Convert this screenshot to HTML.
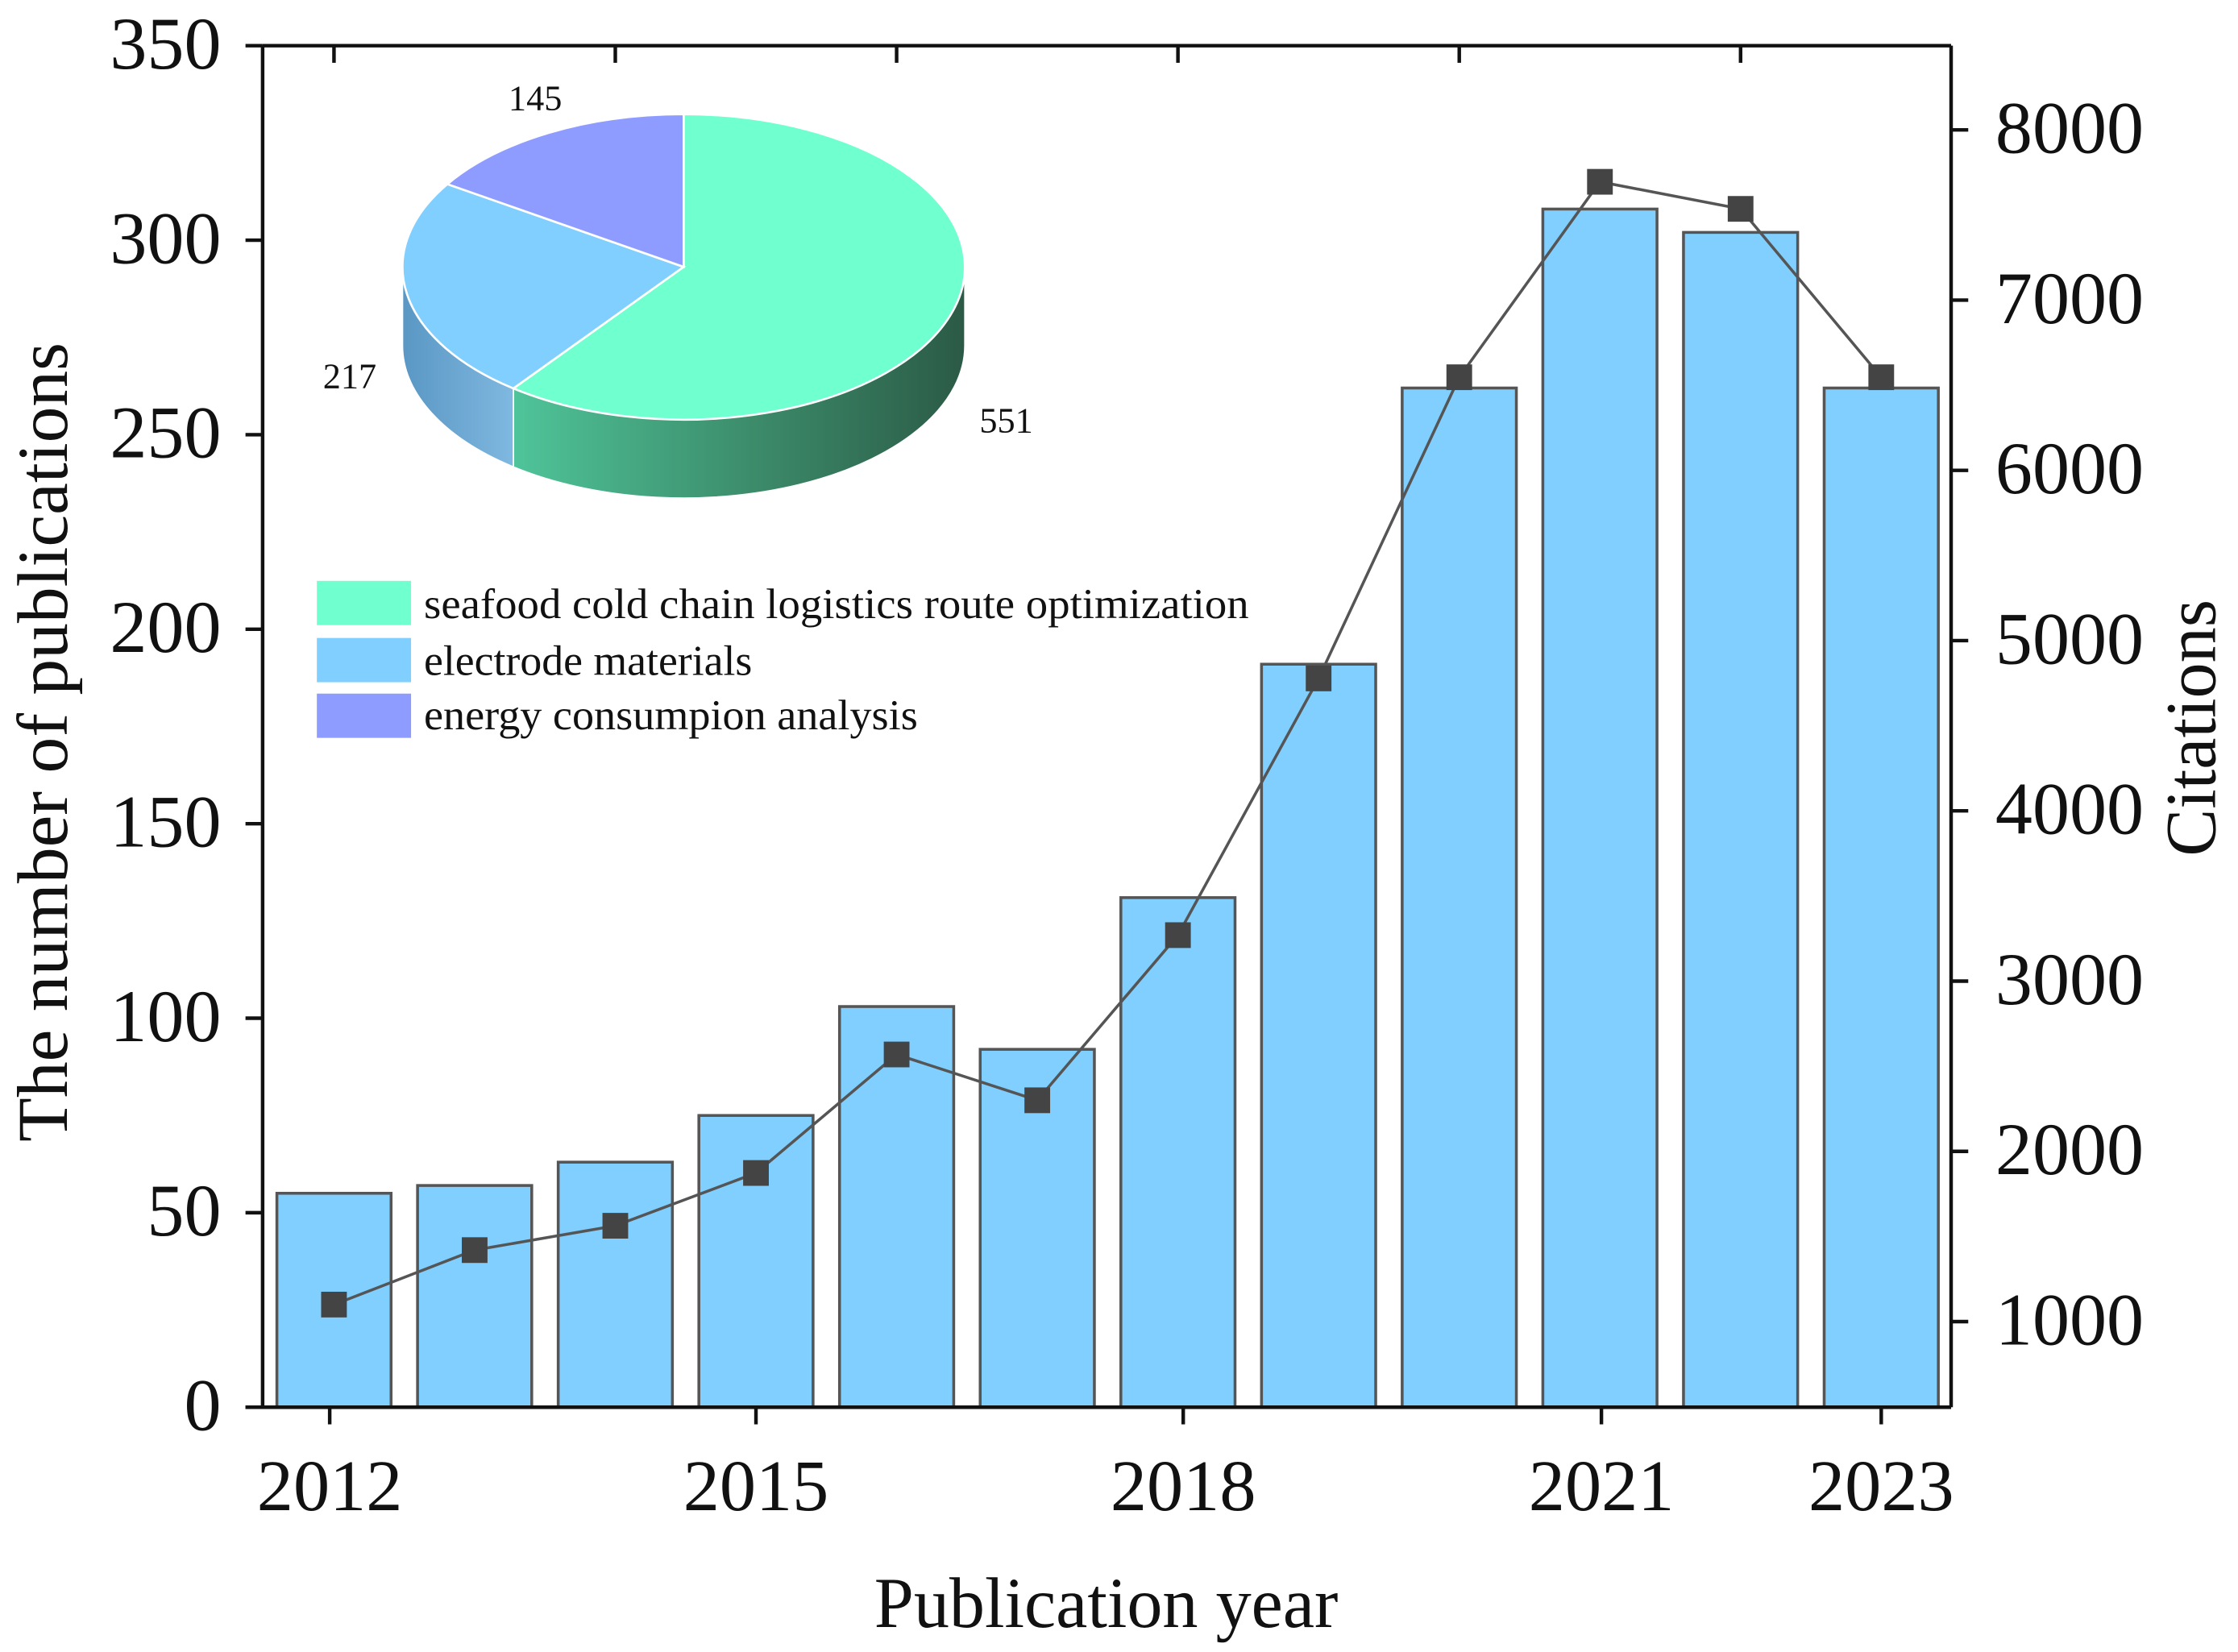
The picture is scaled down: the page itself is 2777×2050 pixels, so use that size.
<!DOCTYPE html>
<html><head><meta charset="utf-8"><style>
html,body{margin:0;padding:0;background:#fff}
svg{display:block}
text{font-family:"Liberation Serif",serif;fill:#111}
</style></head><body>
<svg id="chart" width="2777" height="2050" viewBox="0 0 1568 1157.5" preserveAspectRatio="none" xmlns="http://www.w3.org/2000/svg">
<defs>
<linearGradient id="gside" x1="0" x2="1" y1="0" y2="0">
<stop offset="0" stop-color="#4fc49a"/><stop offset="0.5" stop-color="#3d8f6d"/><stop offset="1" stop-color="#2b5a46"/>
</linearGradient>
<linearGradient id="bside" x1="0" x2="1" y1="0" y2="0">
<stop offset="0" stop-color="#5a97c4"/><stop offset="1" stop-color="#7fb8e0"/>
</linearGradient>
</defs>
<g id="bars"></g>
<g id="line"></g>
<g id="axes"></g>
<g id="pie"></g>
<g id="legend">
<rect x="222" y="407" width="66" height="31" fill="#70ffcf"/>
<text x="297" y="433" font-size="30" textLength="578" lengthAdjust="spacingAndGlyphs">seafood cold chain logistics route optimization</text>
<rect x="222" y="447" width="66" height="31" fill="#80cfff"/>
<text x="297" y="473" font-size="30" textLength="230" lengthAdjust="spacingAndGlyphs">electrode materials</text>
<rect x="222" y="486" width="66" height="31" fill="#8f9cff"/>
<text x="297" y="511" font-size="30" textLength="346" lengthAdjust="spacingAndGlyphs">energy consumpion analysis</text>
</g>
<text transform="translate(47,520) rotate(-90)" text-anchor="middle" font-size="50" textLength="560" lengthAdjust="spacingAndGlyphs">The number of  publications</text>
<text transform="translate(1552,510) rotate(-90)" text-anchor="middle" font-size="50" textLength="180" lengthAdjust="spacingAndGlyphs">Citations</text>
<text x="775" y="1140" text-anchor="middle" font-size="50" textLength="325" lengthAdjust="spacingAndGlyphs">Publication year</text>
</svg>
<script>
const years = [2012,2013,2014,2015,2016,2017,2018,2019,2020,2021,2022,2023];
const publications = [55,57,63,75,103,92,131,191,262,308,302,262];
const citations = [1100,1420,1563,1873,2569,2300,3270,4778,6547,7695,7536,6547];
const leftTicks = [0,50,100,150,200,250,300,350];
const rightTicks = [1000,2000,3000,4000,5000,6000,7000,8000];
const xTickYears = [2012,2015,2018,2021,2023];
const pieLabels = ['seafood cold chain logistics route optimization','electrode materials','energy consumpion analysis'];
const pieValues = [551,217,145];

const NS='http://www.w3.org/2000/svg';
function mk(tag,attrs,parent){const e=document.createElementNS(NS,tag);for(const k in attrs)e.setAttribute(k,attrs[k]);parent.appendChild(e);return e;}
const L=184,R=1367,T=32,B=986;
const yL=v=>B-(v/350)*(B-T);
const yR=v=>926-(v-1000)*(926-91)/7000;
const xC=y=>234+(y-2012)*98.55;
const bw=80;

const gb=document.getElementById('bars');
years.forEach((yr,i)=>{
  const r=mk('rect',{x:xC(yr)-bw/2,y:yL(publications[i]),width:bw,height:B-yL(publications[i]),fill:'#80cfff',stroke:'#555','stroke-width':2},gb);
  
  
});
const gl=document.getElementById('line');
const pl=mk('polyline',{points:years.map((yr,i)=>xC(yr)+','+yR(citations[i])).join(' '),fill:'none',stroke:'#555','stroke-width':2},gl);


years.forEach((yr,i)=>{
  const m=mk('rect',{x:xC(yr)-9,y:yR(citations[i])-9,width:18,height:18,fill:'#444'},gl);
  
  
});

const ga=document.getElementById('axes');
mk('line',{x1:L,y1:T,x2:L,y2:B,stroke:'#111','stroke-width':2.5},ga);
mk('line',{x1:R,y1:T,x2:R,y2:B,stroke:'#111','stroke-width':2.5},ga);
mk('line',{x1:172,y1:B,x2:R,y2:B,stroke:'#111','stroke-width':2.5},ga);
mk('line',{x1:L,y1:T,x2:R,y2:T,stroke:'#111','stroke-width':2.5},ga);
leftTicks.forEach(v=>{
  mk('line',{x1:L-12,y1:yL(v),x2:L,y2:yL(v),stroke:'#111','stroke-width':2.5},ga);
  const t=mk('text',{x:L-29,y:yL(v)+16,'text-anchor':'end','font-size':52},ga);t.textContent=v;
  
  
});
rightTicks.forEach(v=>{
  mk('line',{x1:R,y1:yR(v),x2:R+12,y2:yR(v),stroke:'#111','stroke-width':2.5},ga);
  const t=mk('text',{x:R+31,y:yR(v)+16,'font-size':52,fill:'#333'},ga);t.textContent=v;
  
  
});
const topTicks=[2012,2014,2016,2018,2020,2022];
topTicks.forEach(yr=>{mk('line',{x1:xC(yr),y1:T,x2:xC(yr),y2:T+12,stroke:'#111','stroke-width':2.5},ga);});
xTickYears.forEach(yr=>{
  const x=yr===2021?1122:(yr===2012?231:(yr===2018?829:xC(yr)));
  mk('line',{x1:x,y1:B,x2:x,y2:B+12,stroke:'#111','stroke-width':2.5},ga);
  const t=mk('text',{x:x,y:B+72,'text-anchor':'middle','font-size':51},ga);t.textContent=yr;
  
  
});

// pie
const gp=document.getElementById('pie');
const cx=479,cy=187,rx=197,ry=107,d=55;
const total=pieValues.reduce((a,b)=>a+b,0);
const cols=['#70ffcf','#80cfff','#8f9cff'];
const sides=['url(#gside)','url(#bside)','#6f7bd0'];
const pt=(a,dy)=>[cx+rx*Math.cos(a),cy+ry*Math.sin(a)+(dy||0)];
let a0=-Math.PI/2;const angs=[];
pieValues.forEach(v=>{const a1=a0+v/total*2*Math.PI;angs.push([a0,a1]);a0=a1;});
angs.forEach(([s,e],i)=>{
  const segs=[[s,e],[s-2*Math.PI,e-2*Math.PI]];
  segs.forEach(([ss,ee])=>{
    const s2=Math.max(ss,0),e2=Math.min(ee,Math.PI);
    if(e2<=s2)return;
    const p1=pt(s2),p2=pt(e2);
    const path=`M${p1[0]},${p1[1]} A${rx},${ry} 0 0 1 ${p2[0]},${p2[1]} L${p2[0]},${p2[1]+d} A${rx},${ry} 0 0 0 ${p1[0]},${p1[1]+d} Z`;
    const el=mk('path',{d:path,fill:sides[i],stroke:'#fff','stroke-width':1},gp);
    
    
  });
});
angs.forEach(([s,e],i)=>{
  const p1=pt(s),p2=pt(e);const large=(e-s)>Math.PI?1:0;
  const el=mk('path',{d:`M${cx},${cy} L${p1[0]},${p1[1]} A${rx},${ry} 0 ${large} 1 ${p2[0]},${p2[1]} Z`,fill:cols[i],stroke:'#fff','stroke-width':1.5},gp);
  
  
});
const lblPos=[[705,303],[245,272],[375,77]];
pieValues.forEach((v,i)=>{
  const t=mk('text',{x:lblPos[i][0],y:lblPos[i][1],'text-anchor':'middle','font-size':25},gp);t.textContent=v;
  
  
});
</script>
</body></html>
